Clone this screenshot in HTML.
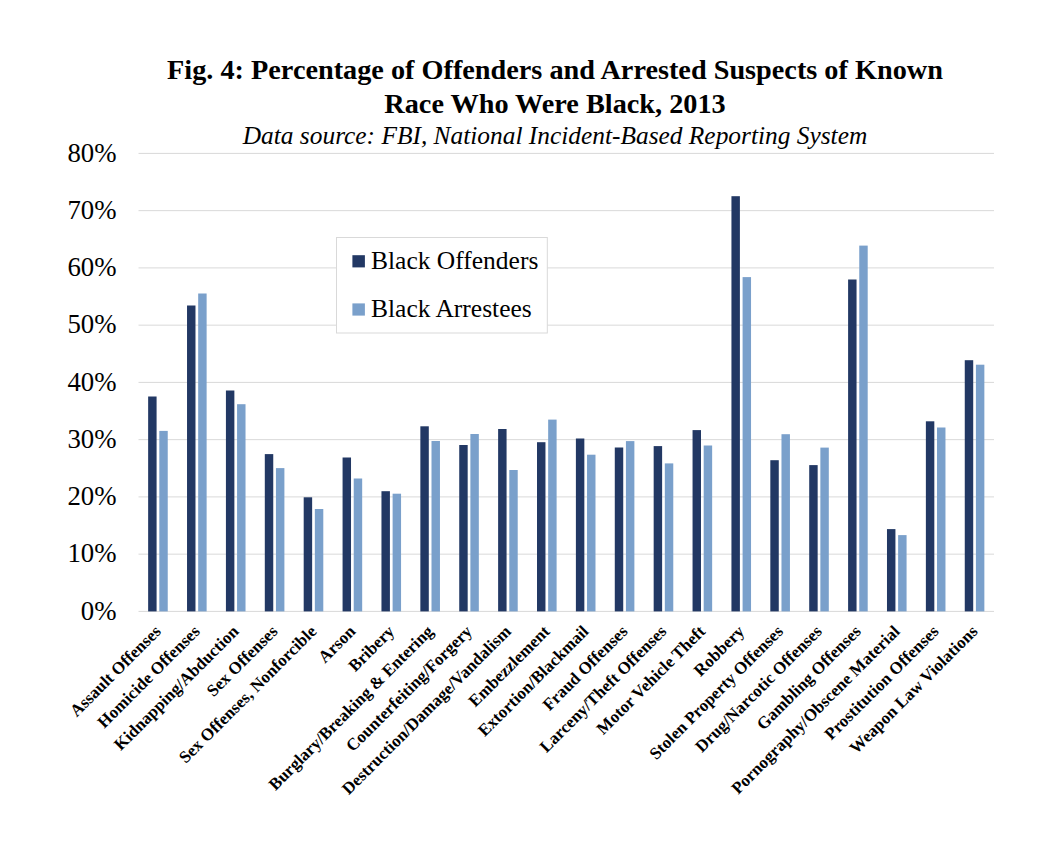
<!DOCTYPE html>
<html><head><meta charset="utf-8"><style>
html,body{margin:0;padding:0;background:#fff;}
body{width:1050px;height:846px;overflow:hidden;position:relative;}
svg{position:absolute;left:0;top:0;}
.t{font-family:"Liberation Serif",serif;font-weight:bold;font-size:28.25px;fill:#000;}
.st{font-family:"Liberation Serif",serif;font-style:italic;font-size:25.4px;fill:#000;}
.yl{font-family:"Liberation Serif",serif;font-size:26.8px;fill:#000;}
.lg{font-family:"Liberation Serif",serif;font-size:25.5px;fill:#000;}
.xl{font-family:"Liberation Serif",serif;font-weight:bold;font-size:17px;fill:#000;}
</style></head><body>
<svg width="1050" height="846" viewBox="0 0 1050 846">
<text x="555" y="79.2" text-anchor="middle" class="t">Fig. 4: Percentage of Offenders and Arrested Suspects of Known</text>
<text x="555" y="112.8" text-anchor="middle" class="t">Race Who Were Black, 2013</text>
<text x="555" y="144.3" text-anchor="middle" class="st">Data source: FBI, National Incident-Based Reporting System</text>
<rect x="138.5" y="610.90" width="855.50" height="1" fill="#d9d9d9"/>
<text x="116.5" y="619.60" text-anchor="end" class="yl">0%</text>
<rect x="138.5" y="553.65" width="855.50" height="1" fill="#d9d9d9"/>
<text x="116.5" y="562.35" text-anchor="end" class="yl">10%</text>
<rect x="138.5" y="496.40" width="855.50" height="1" fill="#d9d9d9"/>
<text x="116.5" y="505.10" text-anchor="end" class="yl">20%</text>
<rect x="138.5" y="439.15" width="855.50" height="1" fill="#d9d9d9"/>
<text x="116.5" y="447.85" text-anchor="end" class="yl">30%</text>
<rect x="138.5" y="381.90" width="855.50" height="1" fill="#d9d9d9"/>
<text x="116.5" y="390.60" text-anchor="end" class="yl">40%</text>
<rect x="138.5" y="324.65" width="855.50" height="1" fill="#d9d9d9"/>
<text x="116.5" y="333.35" text-anchor="end" class="yl">50%</text>
<rect x="138.5" y="267.40" width="855.50" height="1" fill="#d9d9d9"/>
<text x="116.5" y="276.10" text-anchor="end" class="yl">60%</text>
<rect x="138.5" y="210.15" width="855.50" height="1" fill="#d9d9d9"/>
<text x="116.5" y="218.85" text-anchor="end" class="yl">70%</text>
<rect x="138.5" y="152.90" width="855.50" height="1" fill="#d9d9d9"/>
<text x="116.5" y="161.60" text-anchor="end" class="yl">80%</text>
<rect x="148.14" y="396.50" width="8.45" height="214.90" fill="#223864"/>
<rect x="159.29" y="430.90" width="8.45" height="180.50" fill="#7aa0cb"/>
<rect x="187.03" y="305.50" width="8.45" height="305.90" fill="#223864"/>
<rect x="198.18" y="293.50" width="8.45" height="317.90" fill="#7aa0cb"/>
<rect x="225.92" y="390.50" width="8.45" height="220.90" fill="#223864"/>
<rect x="237.07" y="404.20" width="8.45" height="207.20" fill="#7aa0cb"/>
<rect x="264.80" y="454.10" width="8.45" height="157.30" fill="#223864"/>
<rect x="275.95" y="468.10" width="8.45" height="143.30" fill="#7aa0cb"/>
<rect x="303.69" y="497.30" width="8.45" height="114.10" fill="#223864"/>
<rect x="314.84" y="509.00" width="8.45" height="102.40" fill="#7aa0cb"/>
<rect x="342.57" y="457.50" width="8.45" height="153.90" fill="#223864"/>
<rect x="353.73" y="478.50" width="8.45" height="132.90" fill="#7aa0cb"/>
<rect x="381.46" y="491.20" width="8.45" height="120.20" fill="#223864"/>
<rect x="392.61" y="493.70" width="8.45" height="117.70" fill="#7aa0cb"/>
<rect x="420.35" y="426.30" width="8.45" height="185.10" fill="#223864"/>
<rect x="431.50" y="441.00" width="8.45" height="170.40" fill="#7aa0cb"/>
<rect x="459.23" y="445.00" width="8.45" height="166.40" fill="#223864"/>
<rect x="470.38" y="434.00" width="8.45" height="177.40" fill="#7aa0cb"/>
<rect x="498.12" y="429.00" width="8.45" height="182.40" fill="#223864"/>
<rect x="509.27" y="470.00" width="8.45" height="141.40" fill="#7aa0cb"/>
<rect x="537.01" y="442.20" width="8.45" height="169.20" fill="#223864"/>
<rect x="548.16" y="419.60" width="8.45" height="191.80" fill="#7aa0cb"/>
<rect x="575.89" y="438.50" width="8.45" height="172.90" fill="#223864"/>
<rect x="587.04" y="454.70" width="8.45" height="156.70" fill="#7aa0cb"/>
<rect x="614.78" y="447.50" width="8.45" height="163.90" fill="#223864"/>
<rect x="625.93" y="441.10" width="8.45" height="170.30" fill="#7aa0cb"/>
<rect x="653.67" y="446.10" width="8.45" height="165.30" fill="#223864"/>
<rect x="664.82" y="463.40" width="8.45" height="148.00" fill="#7aa0cb"/>
<rect x="692.55" y="430.10" width="8.45" height="181.30" fill="#223864"/>
<rect x="703.70" y="445.50" width="8.45" height="165.90" fill="#7aa0cb"/>
<rect x="731.44" y="196.20" width="8.45" height="415.20" fill="#223864"/>
<rect x="742.59" y="277.10" width="8.45" height="334.30" fill="#7aa0cb"/>
<rect x="770.32" y="460.20" width="8.45" height="151.20" fill="#223864"/>
<rect x="781.48" y="434.20" width="8.45" height="177.20" fill="#7aa0cb"/>
<rect x="809.21" y="465.10" width="8.45" height="146.30" fill="#223864"/>
<rect x="820.36" y="447.60" width="8.45" height="163.80" fill="#7aa0cb"/>
<rect x="848.10" y="279.50" width="8.45" height="331.90" fill="#223864"/>
<rect x="859.25" y="245.60" width="8.45" height="365.80" fill="#7aa0cb"/>
<rect x="886.98" y="529.10" width="8.45" height="82.30" fill="#223864"/>
<rect x="898.13" y="535.10" width="8.45" height="76.30" fill="#7aa0cb"/>
<rect x="925.87" y="421.30" width="8.45" height="190.10" fill="#223864"/>
<rect x="937.02" y="427.50" width="8.45" height="183.90" fill="#7aa0cb"/>
<rect x="964.76" y="360.20" width="8.45" height="251.20" fill="#223864"/>
<rect x="975.91" y="364.70" width="8.45" height="246.70" fill="#7aa0cb"/>
<text transform="translate(161.94,632.40) rotate(-45)" text-anchor="end" class="xl">Assault Offenses</text>
<text transform="translate(200.83,632.40) rotate(-45)" text-anchor="end" class="xl">Homicide Offenses</text>
<text transform="translate(239.72,632.40) rotate(-45)" text-anchor="end" class="xl">Kidnapping/Abduction</text>
<text transform="translate(278.60,632.40) rotate(-45)" text-anchor="end" class="xl">Sex Offenses</text>
<text transform="translate(317.49,632.40) rotate(-45)" text-anchor="end" class="xl">Sex Offenses, Nonforcible</text>
<text transform="translate(356.38,632.40) rotate(-45)" text-anchor="end" class="xl">Arson</text>
<text transform="translate(395.26,632.40) rotate(-45)" text-anchor="end" class="xl">Bribery</text>
<text transform="translate(434.15,632.40) rotate(-45)" text-anchor="end" class="xl">Burglary/Breaking &amp; Entering</text>
<text transform="translate(473.03,632.40) rotate(-45)" text-anchor="end" class="xl">Counterfeiting/Forgery</text>
<text transform="translate(511.92,632.40) rotate(-45)" text-anchor="end" class="xl">Destruction/Damage/Vandalism</text>
<text transform="translate(550.81,632.40) rotate(-45)" text-anchor="end" class="xl">Embezzlement</text>
<text transform="translate(589.69,632.40) rotate(-45)" text-anchor="end" class="xl">Extortion/Blackmail</text>
<text transform="translate(628.58,632.40) rotate(-45)" text-anchor="end" class="xl">Fraud Offenses</text>
<text transform="translate(667.47,632.40) rotate(-45)" text-anchor="end" class="xl">Larceny/Theft Offenses</text>
<text transform="translate(706.35,632.40) rotate(-45)" text-anchor="end" class="xl">Motor Vehicle Theft</text>
<text transform="translate(745.24,632.40) rotate(-45)" text-anchor="end" class="xl">Robbery</text>
<text transform="translate(784.12,632.40) rotate(-45)" text-anchor="end" class="xl">Stolen Property Offenses</text>
<text transform="translate(823.01,632.40) rotate(-45)" text-anchor="end" class="xl">Drug/Narcotic Offenses</text>
<text transform="translate(861.90,632.40) rotate(-45)" text-anchor="end" class="xl">Gambling Offenses</text>
<text transform="translate(900.78,632.40) rotate(-45)" text-anchor="end" class="xl">Pornography/Obscene Material</text>
<text transform="translate(939.67,632.40) rotate(-45)" text-anchor="end" class="xl">Prostitution Offenses</text>
<text transform="translate(978.56,632.40) rotate(-45)" text-anchor="end" class="xl">Weapon Law Violations</text>
<rect x="336.5" y="237.5" width="210.8" height="95.5" fill="#fff" stroke="#d9d9d9" stroke-width="1"/>
<rect x="352.4" y="255.2" width="12.5" height="12.2" fill="#223864"/>
<text x="371" y="268.5" class="lg">Black Offenders</text>
<rect x="352.4" y="303.4" width="12.5" height="12.2" fill="#7aa0cb"/>
<text x="371" y="316.5" class="lg">Black Arrestees</text>
</svg>
</body></html>
